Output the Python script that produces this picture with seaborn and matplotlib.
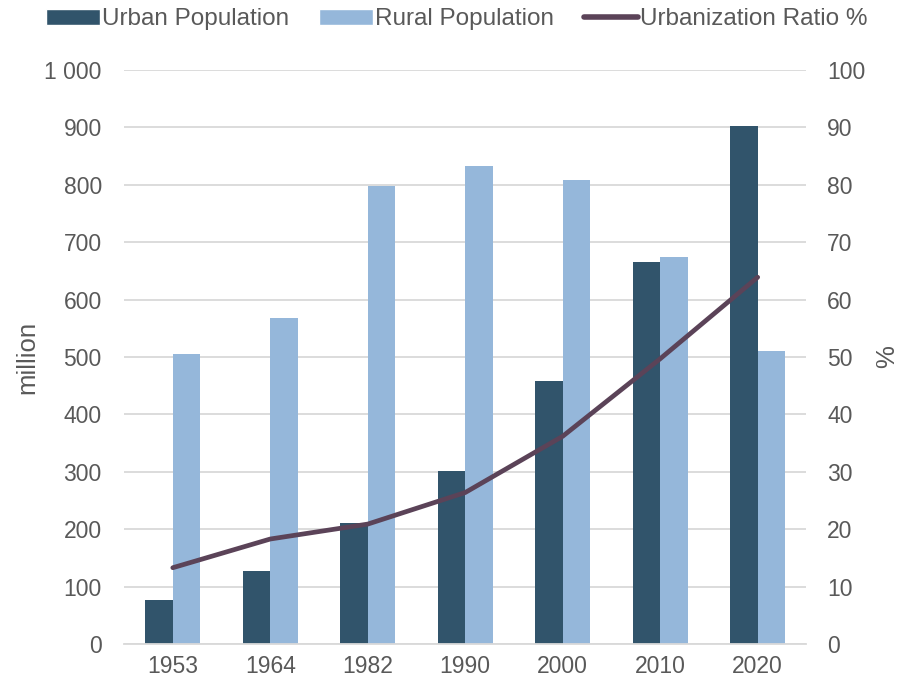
import numpy as np
import pandas as pd
import matplotlib
matplotlib.use("Agg")
import matplotlib.pyplot as plt
import seaborn as sns
from matplotlib.patches import Patch
from matplotlib.lines import Line2D
from matplotlib.ticker import FuncFormatter

# =====================================================
# DATA
# =====================================================
years = ["1953", "1964", "1982", "1990", "2000", "2010", "2020"]
urban_pop = [77.3, 127.1, 210.8, 301.9, 459.1, 665.6, 902.0]
rural_pop = [505.3, 568.6, 797.3, 833.2, 808.4, 674.2, 509.8]
urban_ratio = [13.3, 18.3, 20.9, 26.4, 36.2, 49.7, 63.9]

URBAN_C = "#31546B"
RURAL_C = "#95B7DA"
LINE_C = "#5B4358"
TEXT_C = "#595959"
GRID_C = "#D9D9D9"

df = pd.DataFrame({
    "year": years * 2,
    "value": urban_pop + rural_pop,
    "kind": ["Urban Population"] * len(years) + ["Rural Population"] * len(years),
})

sns.set_theme(style="white")
plt.rcParams["font.family"] = ["Liberation Sans", "DejaVu Sans"]

fig = plt.figure(figsize=(8.99, 6.83), dpi=100)
ax = fig.add_axes([0.138, 0.057, 0.759, 0.8405])

sns.barplot(data=df, x="year", y="value", hue="kind",
            palette=[URBAN_C, RURAL_C], width=0.565, gap=0,
            saturation=1, linewidth=0, edgecolor="none", ax=ax, legend=False)

ax.set_ylim(0, 1000)
ax.set_yticks(np.arange(0, 1001, 100))
ax.yaxis.set_major_formatter(FuncFormatter(lambda v, p: f"{int(v):,}".replace(",", " ")))
ax.grid(axis="y", color=GRID_C, linewidth=1.3)
ax.set_axisbelow(True)
ax.set_xlabel("")
ax.set_ylabel("million", fontsize=18.5, color=TEXT_C, labelpad=4)
for s in ["top", "right", "left"]:
    ax.spines[s].set_visible(False)
ax.spines["bottom"].set_color(GRID_C)
ax.spines["bottom"].set_linewidth(1.3)
ax.tick_params(axis="both", length=0, labelsize=16.5, labelcolor=TEXT_C, pad=8)
ax.tick_params(axis="y", pad=16)

# ratio line on the right axis
ax2 = ax.twinx()
sns.lineplot(x=np.arange(len(years)), y=urban_ratio, color=LINE_C,
             linewidth=3.4, ax=ax2, solid_capstyle="round")
ax2.set_ylim(0, 100)
ax2.set_yticks(np.arange(0, 101, 10))
ax2.set_ylabel("%", fontsize=18.5, color=TEXT_C, labelpad=7)
for s in ["top", "right", "left", "bottom"]:
    ax2.spines[s].set_visible(False)
ax2.tick_params(axis="y", length=0, labelsize=16.5, labelcolor=TEXT_C, pad=15)
ax2.grid(False)
ax.set_xlim(-0.5, len(years) - 0.5)

handles = [
    Patch(facecolor=URBAN_C, label="Urban Population"),
    Patch(facecolor=RURAL_C, label="Rural Population"),
    Line2D([0], [0], color=LINE_C, linewidth=4, solid_capstyle="round",
           label="Urbanization Ratio %"),
]
leg = fig.legend(handles=handles, loc="upper center", bbox_to_anchor=(0.508, 1.02),
                 ncol=3, frameon=False, fontsize=17.5, handlelength=2.2,
                 handleheight=0.62, handletextpad=0.08, columnspacing=1.25)
for t in leg.get_texts():
    t.set_color(TEXT_C)

fig.savefig("out.png", dpi=100)
